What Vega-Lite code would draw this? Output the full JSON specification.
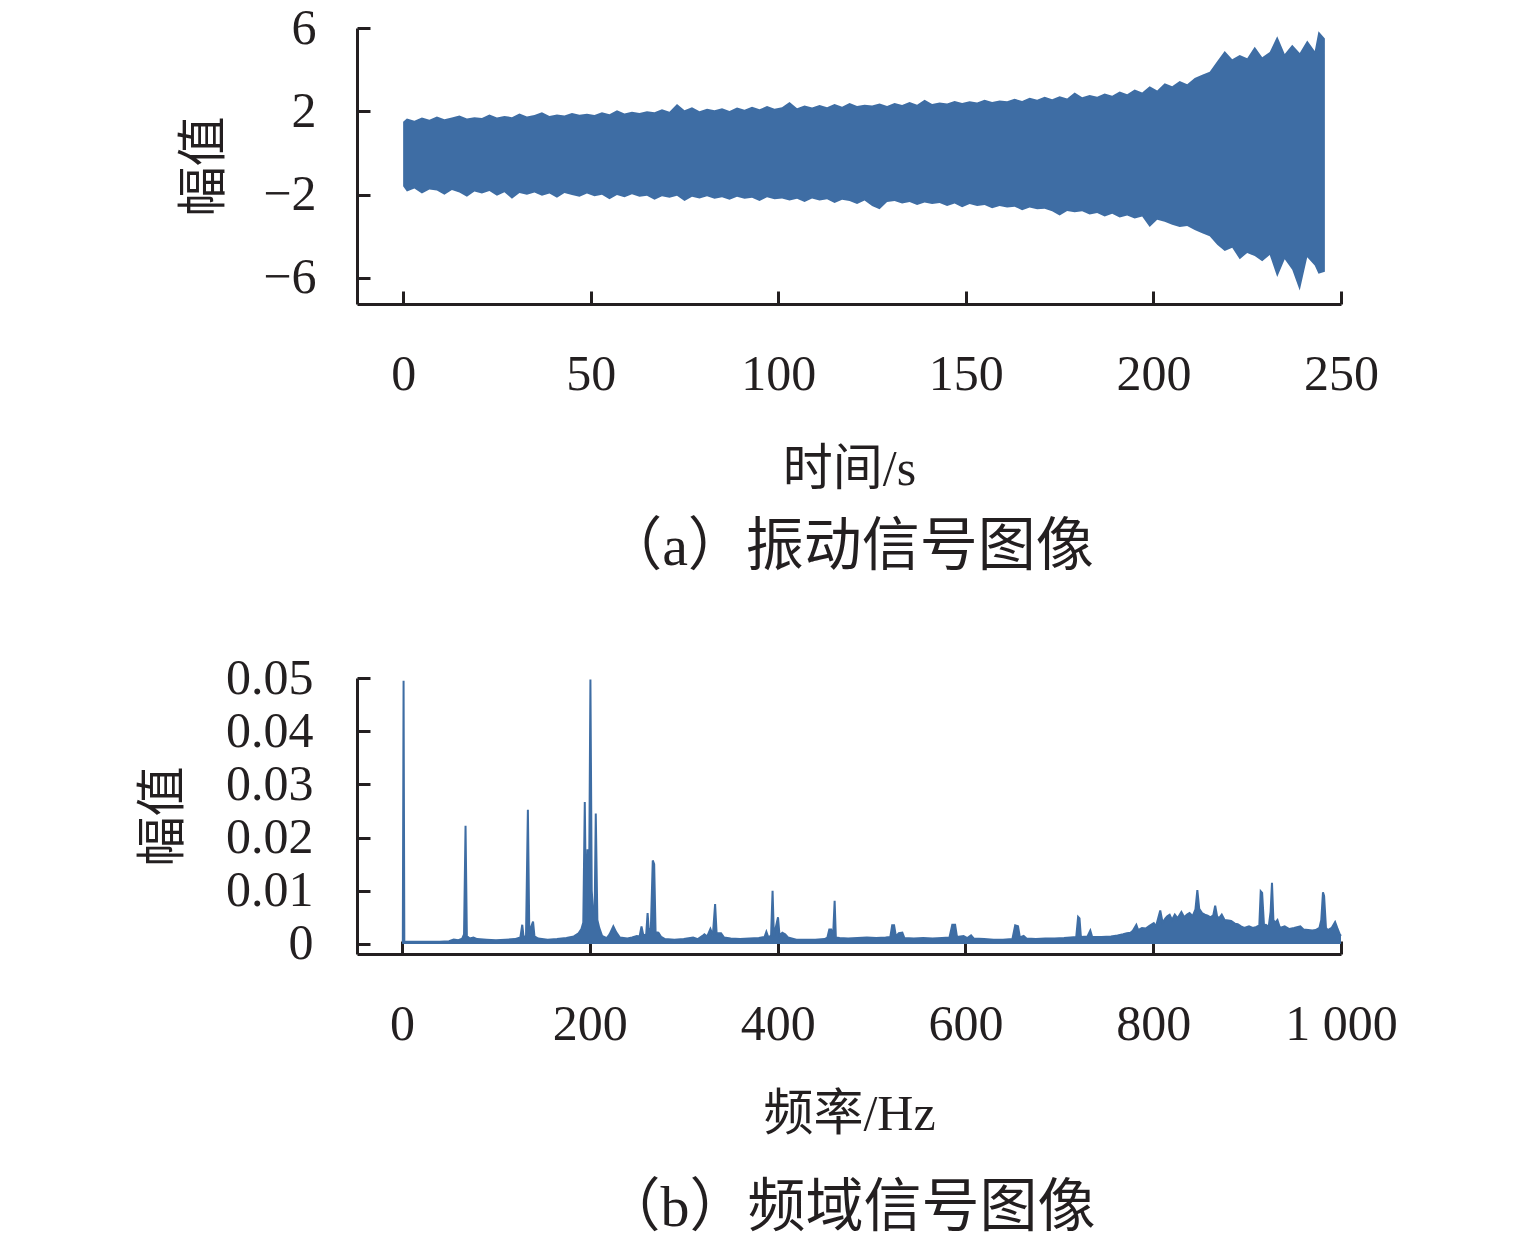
{
  "$schema": "https://vega.github.io/schema/vega-lite/v6.json",
  "background": "white",
  "padding": {"left": 138, "top": 3, "right": 5, "bottom": 5},
  "spacing": 76,
  "config": {
    "font": "'Liberation Serif', 'Noto Sans CJK SC'",
    "view": {"stroke": null},
    "axis": {
      "domainColor": "#231f20", "domainWidth": 3,
      "tickColor": "#231f20", "tickWidth": 3, "tickSize": -13,
      "labelColor": "#231f20", "titleColor": "#231f20",
      "labelFontSize": 50, "titleFontSize": 50, "titleFontWeight": "normal",
      "labelFont": "'Liberation Serif', 'Noto Sans CJK SC'",
      "titleFont": "'Liberation Serif', 'Noto Sans CJK SC'",
      "grid": false, "labelFlush": false, "labelOverlap": false
    }
  },
  "vconcat": [
    {
      "width": 984, "height": 276,
      "title": {"text": "（a）振动信号图像", "orient": "bottom", "frame": "group", "anchor": "middle", "fontSize": 58, "fontWeight": "normal", "color": "#231f20", "offset": 25, "font": "'Liberation Serif', 'Noto Sans CJK SC'"},
      "data": {"values": [
        {"t":0,"hi":1.50,"lo":-1.60},{"t":1,"hi":1.65,"lo":-1.85},{"t":3,"hi":1.55,"lo":-1.70},{"t":5,"hi":1.70,"lo":-1.95},
        {"t":7,"hi":1.60,"lo":-1.75},{"t":9,"hi":1.75,"lo":-1.80},{"t":11,"hi":1.62,"lo":-2.00},{"t":13,"hi":1.70,"lo":-1.78},
        {"t":15,"hi":1.80,"lo":-1.90},{"t":17,"hi":1.66,"lo":-2.10},{"t":19,"hi":1.72,"lo":-1.85},{"t":21,"hi":1.68,"lo":-1.95},
        {"t":23,"hi":1.85,"lo":-1.82},{"t":25,"hi":1.70,"lo":-2.05},{"t":27,"hi":1.78,"lo":-1.88},{"t":29,"hi":1.72,"lo":-2.20},
        {"t":31,"hi":1.90,"lo":-1.92},{"t":33,"hi":1.75,"lo":-2.00},{"t":35,"hi":1.82,"lo":-1.90},{"t":37,"hi":1.95,"lo":-2.05},
        {"t":39,"hi":1.78,"lo":-1.95},{"t":41,"hi":1.85,"lo":-2.15},{"t":43,"hi":1.80,"lo":-1.92},{"t":45,"hi":1.92,"lo":-2.02},
        {"t":47,"hi":1.84,"lo":-2.10},{"t":49,"hi":1.88,"lo":-1.95},{"t":51,"hi":1.82,"lo":-2.08},{"t":53,"hi":1.95,"lo":-2.00},
        {"t":55,"hi":1.86,"lo":-2.22},{"t":57,"hi":2.05,"lo":-2.02},{"t":59,"hi":1.90,"lo":-2.12},{"t":61,"hi":1.98,"lo":-1.98},
        {"t":63,"hi":1.92,"lo":-2.10},{"t":65,"hi":2.00,"lo":-2.05},{"t":67,"hi":1.95,"lo":-2.25},{"t":69,"hi":2.10,"lo":-2.08},
        {"t":71,"hi":1.98,"lo":-2.15},{"t":73,"hi":2.35,"lo":-2.05},{"t":75,"hi":2.05,"lo":-2.30},{"t":77,"hi":2.20,"lo":-2.10},
        {"t":79,"hi":2.00,"lo":-2.18},{"t":81,"hi":2.12,"lo":-2.08},{"t":83,"hi":2.05,"lo":-2.20},{"t":85,"hi":2.15,"lo":-2.12},
        {"t":87,"hi":2.02,"lo":-2.25},{"t":89,"hi":2.18,"lo":-2.10},{"t":91,"hi":2.08,"lo":-2.20},{"t":93,"hi":2.22,"lo":-2.15},
        {"t":95,"hi":2.10,"lo":-2.30},{"t":97,"hi":2.25,"lo":-2.12},{"t":99,"hi":2.12,"lo":-2.22},{"t":101,"hi":2.20,"lo":-2.18},
        {"t":103,"hi":2.45,"lo":-2.28},{"t":105,"hi":2.15,"lo":-2.20},{"t":107,"hi":2.28,"lo":-2.35},{"t":109,"hi":2.18,"lo":-2.18},
        {"t":111,"hi":2.30,"lo":-2.28},{"t":113,"hi":2.20,"lo":-2.22},{"t":115,"hi":2.35,"lo":-2.40},{"t":117,"hi":2.22,"lo":-2.25},
        {"t":119,"hi":2.40,"lo":-2.30},{"t":121,"hi":2.25,"lo":-2.45},{"t":123,"hi":2.32,"lo":-2.28},{"t":125,"hi":2.28,"lo":-2.55},
        {"t":127,"hi":2.38,"lo":-2.70},{"t":129,"hi":2.25,"lo":-2.35},{"t":131,"hi":2.40,"lo":-2.30},{"t":133,"hi":2.30,"lo":-2.42},
        {"t":135,"hi":2.45,"lo":-2.35},{"t":137,"hi":2.32,"lo":-2.50},{"t":139,"hi":2.55,"lo":-2.38},{"t":141,"hi":2.35,"lo":-2.45},
        {"t":143,"hi":2.42,"lo":-2.40},{"t":145,"hi":2.38,"lo":-2.55},{"t":147,"hi":2.50,"lo":-2.42},{"t":149,"hi":2.40,"lo":-2.60},
        {"t":151,"hi":2.48,"lo":-2.45},{"t":153,"hi":2.42,"lo":-2.55},{"t":155,"hi":2.55,"lo":-2.50},{"t":157,"hi":2.45,"lo":-2.65},
        {"t":159,"hi":2.52,"lo":-2.55},{"t":161,"hi":2.48,"lo":-2.62},{"t":163,"hi":2.60,"lo":-2.58},{"t":165,"hi":2.50,"lo":-2.75},
        {"t":167,"hi":2.65,"lo":-2.62},{"t":169,"hi":2.55,"lo":-2.70},{"t":171,"hi":2.70,"lo":-2.68},{"t":173,"hi":2.58,"lo":-2.80},
        {"t":175,"hi":2.72,"lo":-3.00},{"t":177,"hi":2.62,"lo":-2.78},{"t":179,"hi":2.90,"lo":-2.85},{"t":181,"hi":2.68,"lo":-2.80},
        {"t":183,"hi":2.78,"lo":-2.95},{"t":185,"hi":2.70,"lo":-2.88},{"t":187,"hi":2.85,"lo":-3.05},{"t":189,"hi":2.75,"lo":-2.92},
        {"t":191,"hi":2.95,"lo":-3.10},{"t":193,"hi":2.82,"lo":-3.00},{"t":195,"hi":3.05,"lo":-3.15},{"t":197,"hi":2.90,"lo":-3.05},
        {"t":199,"hi":3.20,"lo":-3.55},{"t":201,"hi":3.00,"lo":-3.20},{"t":203,"hi":3.35,"lo":-3.30},{"t":205,"hi":3.20,"lo":-3.45},
        {"t":207,"hi":3.45,"lo":-3.55},{"t":209,"hi":3.30,"lo":-3.50},{"t":211,"hi":3.60,"lo":-3.70},{"t":213,"hi":3.75,"lo":-3.85},
        {"t":215,"hi":3.90,"lo":-4.00},{"t":217,"hi":4.40,"lo":-4.40},{"t":219,"hi":4.90,"lo":-4.70},{"t":221,"hi":4.50,"lo":-4.55},
        {"t":223,"hi":4.70,"lo":-5.10},{"t":225,"hi":4.55,"lo":-4.80},{"t":227,"hi":5.10,"lo":-4.95},{"t":229,"hi":4.60,"lo":-5.20},
        {"t":231,"hi":4.85,"lo":-4.90},{"t":233,"hi":5.60,"lo":-5.95},{"t":235,"hi":4.75,"lo":-5.10},{"t":237,"hi":5.20,"lo":-5.60},
        {"t":239,"hi":4.80,"lo":-6.60},{"t":241,"hi":5.40,"lo":-5.00},{"t":243,"hi":4.90,"lo":-5.40},{"t":244,"hi":5.85,"lo":-5.80},
        {"t":245.7,"hi":5.50,"lo":-5.70}
      ]},
      "mark": {"type": "area", "color": "#3e6da4", "interpolate": "linear"},
      "encoding": {
        "x": {"field": "t", "type": "quantitative",
              "scale": {"domain": [-12.3, 250], "nice": false, "zero": false},
              "axis": {"values": [0, 50, 100, 150, 200, 250], "format": "d", "title": "时间/s", "labelPadding": 58, "titlePadding": 45}},
        "y": {"field": "hi", "type": "quantitative",
              "scale": {"domain": [-7.25, 6], "nice": false, "zero": false},
              "axis": {"values": [-6, -2, 2, 6], "format": "d", "title": "幅值", "labelPadding": 54, "titlePadding": 33}},
        "y2": {"field": "lo"}
      }
    },
    {
      "width": 984, "height": 276,
      "title": {"text": "（b）频域信号图像", "orient": "bottom", "frame": "group", "anchor": "middle", "fontSize": 58, "fontWeight": "normal", "color": "#231f20", "offset": 41, "font": "'Liberation Serif', 'Noto Sans CJK SC'"},
      "data": {"values": [
        {"f":0,"a":0.0004},{"f":0.8,"a":0.0004},{"f":1.6,"a":0.0495},{"f":2.4,"a":0.0004},{"f":10,"a":0.0004},{"f":20,"a":0.0004},
        {"f":30,"a":0.0004},{"f":40,"a":0.0004},{"f":50,"a":0.0005},{"f":55,"a":0.0008},{"f":60,"a":0.0007},{"f":64,"a":0.0010},
        {"f":66,"a":0.0018},{"f":67.6,"a":0.0222},{"f":69,"a":0.0015},{"f":72,"a":0.0010},{"f":76,"a":0.0012},{"f":80,"a":0.0009},
        {"f":90,"a":0.0008},{"f":100,"a":0.0007},{"f":110,"a":0.0008},{"f":120,"a":0.0009},{"f":126,"a":0.0012},{"f":128,"a":0.0036},
        {"f":129.5,"a":0.0012},{"f":132,"a":0.0015},{"f":134,"a":0.0252},{"f":135.5,"a":0.0020},{"f":137,"a":0.0030},{"f":139.5,"a":0.0042},
        {"f":141,"a":0.0014},{"f":145,"a":0.0010},{"f":155,"a":0.0008},{"f":165,"a":0.0009},{"f":175,"a":0.0011},{"f":183,"a":0.0014},
        {"f":188,"a":0.0020},{"f":191,"a":0.0028},{"f":193,"a":0.0040},{"f":194.6,"a":0.0267},{"f":196,"a":0.0050},{"f":197.5,"a":0.0178},
        {"f":199,"a":0.0060},{"f":200.6,"a":0.0497},{"f":202,"a":0.0100},{"f":203.5,"a":0.0060},{"f":205,"a":0.0040},{"f":206.3,"a":0.0245},
        {"f":208,"a":0.0045},{"f":210,"a":0.0030},{"f":213,"a":0.0015},{"f":218,"a":0.0011},{"f":221,"a":0.0018},{"f":225,"a":0.0033},
        {"f":228,"a":0.0022},{"f":232,"a":0.0012},{"f":240,"a":0.0010},{"f":245,"a":0.0012},{"f":250,"a":0.0015},{"f":253,"a":0.0014},
        {"f":255,"a":0.0033},{"f":257,"a":0.0016},{"f":260,"a":0.0018},{"f":261.5,"a":0.0058},{"f":263,"a":0.0020},{"f":265,"a":0.0030},
        {"f":267,"a":0.0157},{"f":268.5,"a":0.0150},{"f":270,"a":0.0022},{"f":273,"a":0.0021},{"f":276,"a":0.0013},{"f":280,"a":0.0009},
        {"f":290,"a":0.0008},{"f":300,"a":0.0009},{"f":310,"a":0.0012},{"f":315,"a":0.0009},{"f":320,"a":0.0015},{"f":322,"a":0.0018},
        {"f":325,"a":0.0014},{"f":328.4,"a":0.0028},{"f":331,"a":0.0016},{"f":333.4,"a":0.0075},{"f":335,"a":0.0020},{"f":339.7,"a":0.0020},
        {"f":343,"a":0.0012},{"f":350,"a":0.0010},{"f":360,"a":0.0009},{"f":370,"a":0.0010},{"f":380,"a":0.0011},{"f":386,"a":0.0013},
        {"f":388,"a":0.0023},{"f":390,"a":0.0013},{"f":393,"a":0.0015},{"f":394.6,"a":0.0100},{"f":396,"a":0.0015},{"f":400.4,"a":0.0050},
        {"f":402,"a":0.0016},{"f":405,"a":0.0021},{"f":408,"a":0.0018},{"f":411,"a":0.0012},{"f":420,"a":0.0008},{"f":430,"a":0.0008},
        {"f":440,"a":0.0008},{"f":450,"a":0.0009},{"f":453,"a":0.0012},{"f":455,"a":0.0027},{"f":457,"a":0.0027},{"f":459,"a":0.0012},
        {"f":460.7,"a":0.0081},{"f":462,"a":0.0012},{"f":466,"a":0.0011},{"f":475,"a":0.0010},{"f":485,"a":0.0011},{"f":495,"a":0.0012},
        {"f":505,"a":0.0011},{"f":515,"a":0.0012},{"f":520,"a":0.0013},{"f":522,"a":0.0035},{"f":524,"a":0.0035},{"f":526,"a":0.0014},
        {"f":529,"a":0.0020},{"f":532.8,"a":0.0021},{"f":535,"a":0.0011},{"f":545,"a":0.0010},{"f":555,"a":0.0011},{"f":565,"a":0.0010},
        {"f":575,"a":0.0011},{"f":583,"a":0.0012},{"f":586,"a":0.0036},{"f":589,"a":0.0036},{"f":591,"a":0.0013},{"f":598,"a":0.0015},
        {"f":602,"a":0.0011},{"f":606,"a":0.0016},{"f":609,"a":0.0010},{"f":620,"a":0.0009},{"f":630,"a":0.0008},{"f":640,"a":0.0008},
        {"f":650,"a":0.0009},{"f":653,"a":0.0035},{"f":656,"a":0.0033},{"f":658,"a":0.0012},{"f":662,"a":0.0015},{"f":665,"a":0.0010},
        {"f":675,"a":0.0009},{"f":685,"a":0.0010},{"f":695,"a":0.0010},{"f":705,"a":0.0011},{"f":712,"a":0.0012},{"f":718,"a":0.0013},
        {"f":720,"a":0.0051},{"f":721.5,"a":0.0048},{"f":723,"a":0.0013},{"f":730,"a":0.0014},{"f":733,"a":0.0025},{"f":735,"a":0.0013},
        {"f":745,"a":0.0013},{"f":755,"a":0.0014},{"f":762,"a":0.0016},{"f":768,"a":0.0018},{"f":772,"a":0.0020},{"f":775.7,"a":0.0021},
        {"f":778,"a":0.0024},{"f":782,"a":0.0036},{"f":784,"a":0.0026},{"f":788,"a":0.0030},{"f":792,"a":0.0029},{"f":796,"a":0.0034},
        {"f":800.6,"a":0.0039},{"f":803,"a":0.0033},{"f":807.5,"a":0.0063},{"f":810,"a":0.0040},{"f":813,"a":0.0048},{"f":815,"a":0.0052},
        {"f":817.5,"a":0.0055},{"f":820,"a":0.0045},{"f":823,"a":0.0055},{"f":826,"a":0.0048},{"f":830,"a":0.0060},{"f":833,"a":0.0050},
        {"f":836,"a":0.0055},{"f":838.7,"a":0.0058},{"f":842,"a":0.0052},{"f":845,"a":0.0065},{"f":847,"a":0.0101},{"f":849,"a":0.0066},
        {"f":852,"a":0.0058},{"f":855,"a":0.0055},{"f":858,"a":0.0053},{"f":861,"a":0.0050},{"f":864,"a":0.0054},{"f":866,"a":0.0072},
        {"f":868,"a":0.0052},{"f":870,"a":0.0048},{"f":873,"a":0.0055},{"f":876,"a":0.0045},{"f":880,"a":0.0044},{"f":883,"a":0.0043},
        {"f":887,"a":0.0038},{"f":890,"a":0.0037},{"f":893.5,"a":0.0033},{"f":897,"a":0.0030},{"f":900,"a":0.0032},{"f":902,"a":0.0033},
        {"f":906,"a":0.0030},{"f":910,"a":0.0032},{"f":913,"a":0.0035},{"f":914.5,"a":0.0099},{"f":916,"a":0.0096},{"f":918,"a":0.0035},
        {"f":920,"a":0.0036},{"f":923,"a":0.0032},{"f":925,"a":0.0060},{"f":926.5,"a":0.0115},{"f":928,"a":0.0045},{"f":930,"a":0.0040},
        {"f":932.3,"a":0.0045},{"f":935,"a":0.0030},{"f":940,"a":0.0033},{"f":945,"a":0.0028},{"f":950,"a":0.0030},{"f":956.7,"a":0.0033},
        {"f":960,"a":0.0027},{"f":965,"a":0.0026},{"f":969.4,"a":0.0025},{"f":973,"a":0.0026},{"f":977,"a":0.0030},{"f":979,"a":0.0045},
        {"f":980.8,"a":0.0097},{"f":982,"a":0.0090},{"f":984,"a":0.0030},{"f":986,"a":0.0026},{"f":990,"a":0.0030},{"f":993.7,"a":0.0041},
        {"f":996,"a":0.0030},{"f":998.7,"a":0.0018},{"f":1000,"a":0.0015}
      ]},
      "encoding": {
        "x": {"field": "f", "type": "quantitative",
              "scale": {"domain": [-48, 1000], "nice": false, "zero": false},
              "axis": {"values": [0, 200, 400, 600, 800, 1000], "labelExpr": "datum.value == 1000 ? '1 000' : format(datum.value, 'd')", "title": "频率/Hz", "labelPadding": 58, "titlePadding": 40}},
        "y": {"field": "a", "type": "quantitative",
              "scale": {"domain": [-0.0019, 0.05], "nice": false, "zero": false},
              "axis": {"values": [0, 0.01, 0.02, 0.03, 0.04, 0.05], "labelExpr": "datum.value == 0 ? '0' : format(datum.value, '.2f')", "title": "幅值", "labelPadding": 57, "titlePadding": 37}}
      },
      "layer": [
        {"mark": {"type": "area", "color": "#3e6da4", "interpolate": "linear"}, "encoding": {"y2": {"datum": 0}}},
        {"mark": {"type": "line", "color": "#3e6da4", "strokeWidth": 2, "interpolate": "linear"}, "encoding": {}}
      ]
    }
  ]
}
